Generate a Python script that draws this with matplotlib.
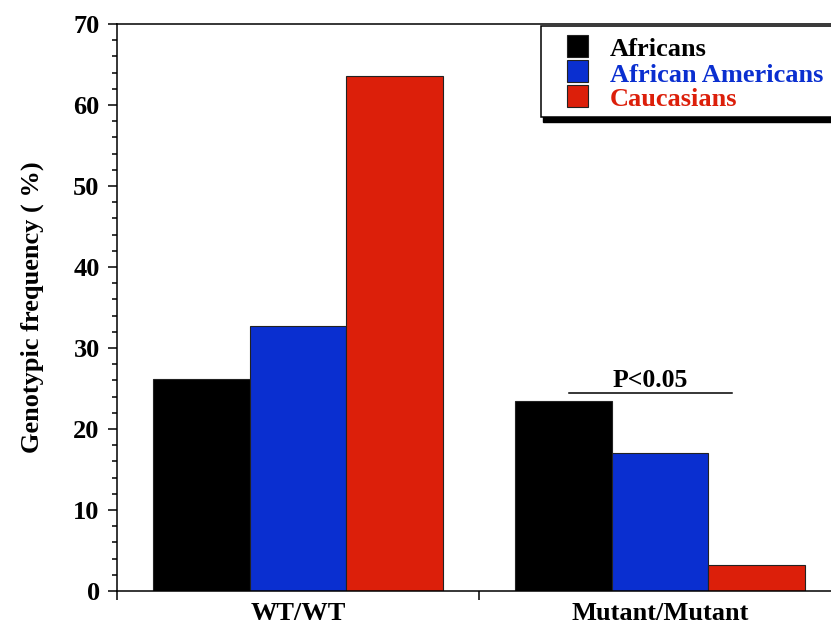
import matplotlib
matplotlib.use("Agg")
import matplotlib.pyplot as plt
import numpy as np
from matplotlib.patches import Rectangle
from matplotlib.ticker import MultipleLocator

plt.rcParams['font.family'] = ['Liberation Serif', 'DejaVu Serif']
plt.rcParams['font.weight'] = 'bold'

groups = ["WT/WT", "Mutant/Mutant"]
series = ["Africans", "African Americans", "Caucasians"]
africans = [26.2, 23.5]
african_americans = [32.7, 17.0]
caucasians = [63.6, 3.2]
colors = ["#000000", "#0a2fd0", "#dc1f0a"]
pvalue_text = "P<0.05"
pvalue_y = 24.4

W, H = 831, 626
fig = plt.figure(figsize=(W / 100, H / 100), dpi=100)
ax = fig.add_axes([117 / W, 35 / H, 724 / W, 567 / H])

width = 0.8 / 3
centers = np.array([0.5, 1.5])
for i, (vals, col) in enumerate(zip([africans, african_americans, caucasians], colors)):
    ax.bar(centers + (i - 1) * width, vals, width=width, color=col,
           edgecolor="#222222", linewidth=0.8, label=series[i], zorder=2)

ax.set_xlim(0, 2)
ax.set_ylim(0, 70)

ax.yaxis.set_major_locator(MultipleLocator(10))
ax.yaxis.set_minor_locator(MultipleLocator(2))
ax.tick_params(axis='y', which='major', direction='out', length=6.5, width=1.1,
               labelsize=19, pad=6)
ax.tick_params(axis='y', which='minor', direction='out', length=3.5, width=1.1)
ax.set_xticks([0, 1, 2])
ax.set_xticklabels(["", "", ""])
ax.set_xticks(centers, minor=True)
ax.set_xticklabels(groups, minor=True, fontsize=19, fontweight='bold')
ax.tick_params(axis='x', which='major', direction='out', length=6.5, width=1.1)
ax.tick_params(axis='x', which='minor', length=0, pad=8)
for lab in ax.get_yticklabels():
    lab.set_fontweight('bold')

for s in ['left', 'top', 'bottom', 'right']:
    ax.spines[s].set_linewidth(1.1)

ax.set_ylabel("Genotypic frequency ( %)", fontsize=19, fontweight='bold', labelpad=21)

# significance annotation
ax.plot([1.249, 1.699], [pvalue_y, pvalue_y], color='black', linewidth=1.1, zorder=3)
ax.text(1.472, pvalue_y + 0.75, pvalue_text, ha='center', va='baseline',
        fontsize=18.5, fontweight='bold')

# legend (drawn manually in figure pixel coordinates, y measured from top)
def fx(px):
    return px / W

def fy(py):
    return 1 - py / H

box_left, box_top, box_bottom, box_right = 541, 26, 117, 880
shadow = Rectangle((fx(box_left + 2), fy(box_bottom + 5)), fx(box_right - box_left),
                   (box_bottom - box_top) / H, transform=fig.transFigure,
                   facecolor='black', edgecolor='black', zorder=5, clip_on=False)
frame = Rectangle((fx(box_left), fy(box_bottom)), fx(box_right - box_left),
                  (box_bottom - box_top) / H, transform=fig.transFigure,
                  facecolor='white', edgecolor='black', linewidth=1.1, zorder=6,
                  clip_on=False)
ax.add_artist(shadow)
ax.add_artist(frame)
row_tops = [35, 60, 85]
sq = 22
for name, col, top in zip(series, colors, row_tops):
    ax.add_artist(Rectangle((fx(567), fy(top + sq)), fx(21), sq / H,
                            transform=fig.transFigure, facecolor=col,
                            edgecolor='#222222', linewidth=0.8, zorder=7,
                            clip_on=False))
    ax.text(fx(610), fy(top + sq - 0.5), name, transform=fig.transFigure,
            color=col, fontsize=19, fontweight='bold', va='baseline', ha='left',
            zorder=8)

fig.savefig("out.png", dpi=100)
